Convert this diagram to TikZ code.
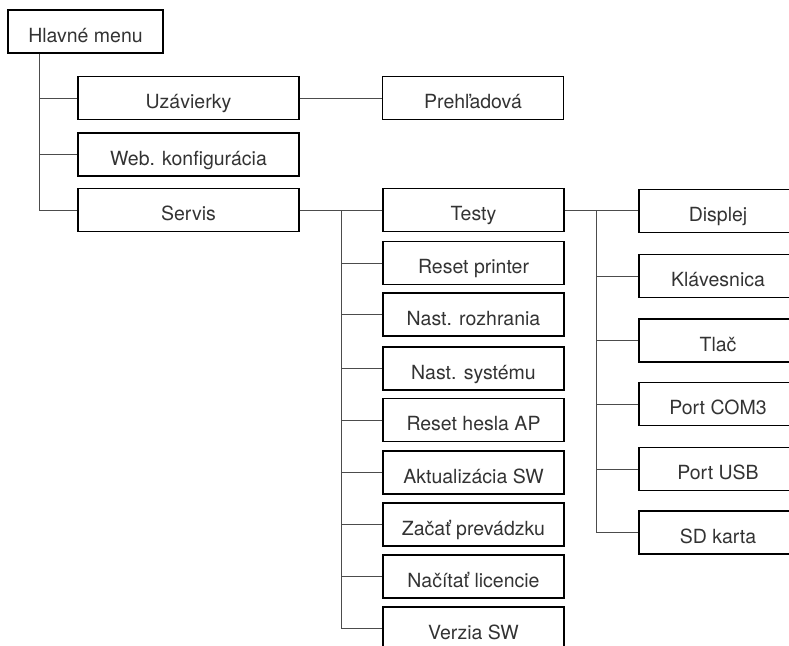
\documentclass[tikz,border=0pt]{standalone}
\usepackage{fontspec}
\setmainfont{TeX Gyre Heros}
\begin{document}
\begin{tikzpicture}[x=1pt,y=-1pt,
  box/.style={draw=black,line width=1.2pt,rectangle,inner sep=0pt,minimum height=43pt,
    text height=21pt,text depth=0pt,
    text=black!80,font=\fontsize{19.5}{22}\selectfont},
  lbox/.style={box,minimum width=221pt},
  mbox/.style={box,minimum width=181pt},
  rbox/.style={box,minimum width=158pt},
  conn/.style={draw=black!70,line width=1pt}]
\path[use as bounding box,clip] (0,0) rectangle (789,645);
% level 0
\node[box,minimum width=155pt] (hm) at (85.5,31.5) {Hlavné menu};
% level 1
\node[lbox] (uz) at (188.5,98) {Uzávierky};
\node[lbox] (web) at (188.5,154.5) {Web. konfigurácia};
\node[lbox] (ser) at (188.5,210) {Servis};
% level 2
\node[mbox] (pre) at (473,98) {Prehľadová};
\node[mbox] (ty) at (473.5,210) {Testy};
\node[mbox] (rp) at (473.5,263) {Reset printer};
\node[mbox] (nr) at (473.5,314.5) {Nast. rozhrania};
\node[mbox] (ns) at (473.5,368.5) {Nast. systému};
\node[mbox] (rh) at (473.5,420) {Reset hesla AP};
\node[mbox] (ak) at (473.5,472.5) {Aktualizácia SW};
\node[mbox] (zp) at (473.5,524.5) {Začať prevádzku};
\node[mbox] (nl) at (473.5,576.5) {Načítať licencie};
\node[mbox] (vz) at (473.5,628.5) {Verzia SW};
% level 3
\node[rbox] (di) at (718,211) {Displej};
\node[rbox] (kl) at (718,276) {Klávesnica};
\node[rbox] (tl) at (718,340.5) {Tlač};
\node[rbox] (pc) at (718,404) {Port COM3};
\node[rbox] (pu) at (718,469) {Port USB};
\node[rbox] (sd) at (718,532.5) {SD karta};
% trunk coordinates
\coordinate (t1) at (39,0);
\coordinate (t2) at (341,0);
\coordinate (t3) at (596,0);
% connectors level 0 -> 1
\draw[conn] (t1 |- hm.south) |- (ser.west);
\draw[conn] (t1 |- uz.west) -- (uz.west);
\draw[conn] (t1 |- web.west) -- (web.west);
% uz -> pre
\draw[conn] (uz.east) -- (pre.west);
% servis -> children
\draw[conn] (ser.east) -- (ty.west);
\draw[conn] (ser.east -| t2) |- (vz.west);
\foreach \n in {rp,nr,ns,rh,ak,zp,nl} {
  \draw[conn] (t2 |- \n.west) -- (\n.west);
}
% testy -> children
\draw[conn] (ty.east) -- (di.west |- ty.east);
\draw[conn] (ty.east -| t3) |- (sd.west);
\foreach \n in {kl,tl,pc,pu} {
  \draw[conn] (t3 |- \n.west) -- (\n.west);
}
\end{tikzpicture}
\end{document}
